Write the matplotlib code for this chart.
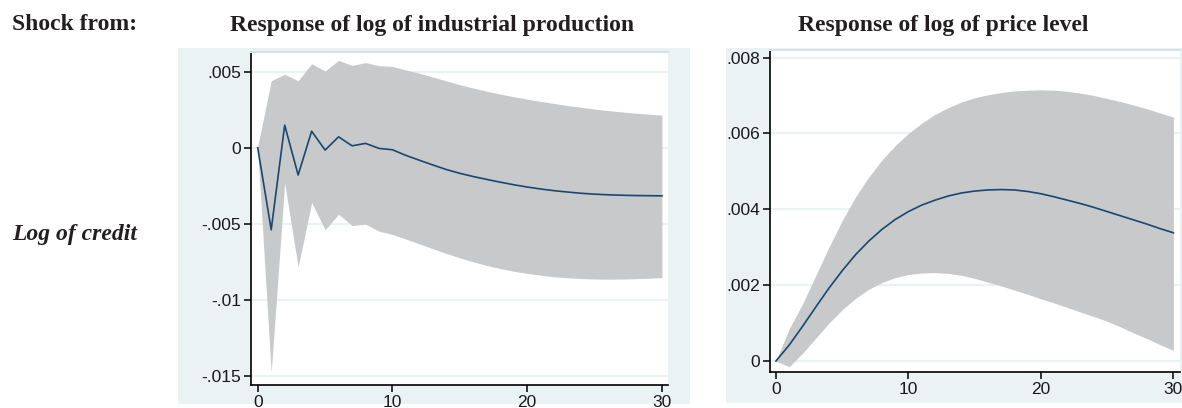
import matplotlib
matplotlib.use("Agg")
import matplotlib.pyplot as plt
from matplotlib.patches import Rectangle

# horizon (months)
steps = list(range(31))

# response of log industrial production to a credit shock
ip_irf = [0.0, -0.00539, 0.00149, -0.00179, 0.00109, -0.00015, 0.00072, 0.00013, 0.00029,
          -0.00004, -0.00013, -0.00050, -0.00082, -0.00113, -0.00143, -0.00168, -0.00189,
          -0.00208, -0.00226, -0.00243, -0.00258, -0.00271, -0.00282, -0.00291, -0.00299,
          -0.00305, -0.00309, -0.00312, -0.00314, -0.00315, -0.00316]
ip_upper = [0.0001, 0.00441, 0.00483, 0.00441, 0.00553, 0.00505, 0.00575, 0.00542, 0.00560,
            0.00540, 0.00535, 0.00512, 0.00490, 0.00465, 0.00440, 0.00415, 0.00393, 0.00372,
            0.00353, 0.00336, 0.00320, 0.00305, 0.00291, 0.00278, 0.00266, 0.00255, 0.00245,
            0.00236, 0.00228, 0.00221, 0.00215]
ip_lower = [-0.0001, -0.01478, -0.00233, -0.00784, -0.00360, -0.00539, -0.00437, -0.00511,
            -0.00502, -0.00548, -0.00570, -0.00600, -0.00632, -0.00664, -0.00695, -0.00724,
            -0.00750, -0.00774, -0.00794, -0.00812, -0.00826, -0.00838, -0.00848, -0.00855,
            -0.00860, -0.00863, -0.00864, -0.00863, -0.00861, -0.00858, -0.00854]

# response of log price level to a credit shock
p_irf = [0.0, 0.00042, 0.00091, 0.00142, 0.00192, 0.00238, 0.00280, 0.00316, 0.00347,
         0.00373, 0.00394, 0.00411, 0.00424, 0.00435, 0.00443, 0.00448, 0.00451, 0.00452,
         0.00451, 0.00447, 0.00441, 0.00433, 0.00424, 0.00415, 0.00405, 0.00394, 0.00383,
         0.00372, 0.00361, 0.00349, 0.00338]
p_upper = [0.0, 0.00085, 0.00150, 0.00225, 0.00300, 0.00370, 0.00432, 0.00485, 0.00530,
           0.00568, 0.00600, 0.00627, 0.00650, 0.00668, 0.00683, 0.00694, 0.00702, 0.00708,
           0.00712, 0.00714, 0.00715, 0.00714, 0.00711, 0.00706, 0.00700, 0.00692, 0.00684,
           0.00675, 0.00665, 0.00654, 0.00643]
p_lower = [0.0, -0.00015, 0.00020, 0.00060, 0.00100, 0.00135, 0.00165, 0.00189, 0.00207,
           0.00220, 0.00228, 0.00232, 0.00233, 0.00231, 0.00226, 0.00218, 0.00208, 0.00198,
           0.00187, 0.00176, 0.00164, 0.00153, 0.00141, 0.00129, 0.00117, 0.00105, 0.00090,
           0.00074, 0.00059, 0.00043, 0.00028]

ip_yticks = [0.005, 0.0, -0.005, -0.01, -0.015]
ip_ylabels = [".005", "0", "-.005", "-.01", "-.015"]
p_yticks = [0.0, 0.002, 0.004, 0.006, 0.008]
p_ylabels = ["0", ".002", ".004", ".006", ".008"]
x_ticks = [0, 10, 20, 30]

LINE = "#1a476f"
BAND = "#c8c9cb"
BG = "#eaf2f3"
GRID = "#eaf2f3"

plt.rcParams["font.family"] = ["Liberation Sans", "DejaVu Sans"]

W, H = 1182, 408
fig = plt.figure(figsize=(W / 100, H / 100), dpi=100)


def px_rect(x0, y0, x1, y1):
    # pixel box (top-left origin) -> figure fraction
    return [x0 / W, 1 - y1 / H, (x1 - x0) / W, (y1 - y0) / H]


# outer graph regions (Stata-like tinted background)
for x0, y0, x1, y1 in [(178, 48, 690, 404), (726, 48, 1182, 403)]:
    l, b, w, h = px_rect(x0, y0, x1, y1)
    fig.patches.append(Rectangle((l, b), w, h, transform=fig.transFigure,
                                 facecolor=BG, edgecolor="none", zorder=-5))

ax1 = fig.add_axes(px_rect(251, 52, 668, 385))
ax2 = fig.add_axes(px_rect(770, 50, 1180, 372))
ax1.set_zorder(2)
ax2.set_zorder(2)


def style(ax, yticks, ylabels, ylim, xlim):
    ax.set_facecolor("white")
    ax.set_xlim(*xlim)
    ax.set_ylim(*ylim)
    ax.set_yticks(yticks)
    ax.set_yticklabels(ylabels)
    ax.set_xticks(x_ticks)
    for y in yticks:
        ax.axhline(y, color=GRID, lw=1.6, zorder=0)
    ax.spines["right"].set_visible(False)
    ax.spines["top"].set_color("#d6e2e6")
    ax.spines["top"].set_linewidth(1.5)
    ax.spines["left"].set_linewidth(1.2)
    ax.spines["bottom"].set_linewidth(1.2)
    ax.tick_params(direction="out", length=5, width=1.1, labelsize=12.5,
                   colors="black", labelcolor="#1a1a1a", pad=2)


ax1.fill_between(steps, ip_lower, ip_upper, color=BAND, lw=0, zorder=1)
ax1.plot(steps, ip_irf, color=LINE, lw=1.2, zorder=2)
style(ax1, ip_yticks, ip_ylabels, (-0.0156, 0.0063), (-0.5, 30.45))

ax2.fill_between(steps, p_lower, p_upper, color=BAND, lw=0, zorder=1)
ax2.plot(steps, p_irf, color=LINE, lw=1.2, zorder=2)
style(ax2, p_yticks, p_ylabels, (-0.00029, 0.0082), (-0.45, 30.5))

serif = ["Liberation Serif", "DejaVu Serif"]
fig.text(12 / W, 1 - 25 / H, "Shock from:", family=serif, weight="bold",
         fontsize=17, va="center", ha="left", color="#231f20")
fig.text(432 / W, 1 - 25 / H, "Response of log of industrial production", family=serif,
         weight="bold", fontsize=17, va="center", ha="center", color="#231f20")
fig.text(943 / W, 1 - 25 / H, "Response of log of price level", family=serif,
         weight="bold", fontsize=17, va="center", ha="center", color="#231f20")
fig.text(12 / W, 1 - 235 / H, "Log of credit", family=serif, weight="bold",
         style="italic", fontsize=17, va="center", ha="left", color="#231f20")

fig.savefig("out.png", dpi=100, facecolor="white")
